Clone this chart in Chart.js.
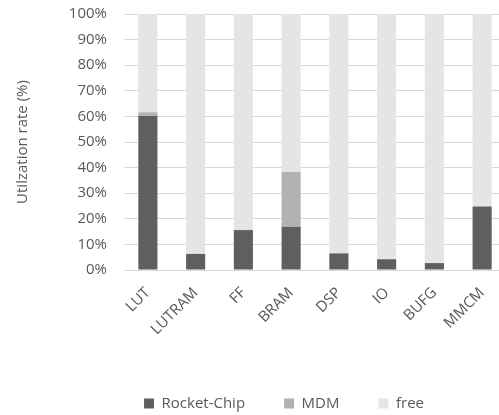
<!DOCTYPE html>
<html>
<head>
<meta charset="utf-8">
<script src="https://cdn.jsdelivr.net/npm/chart.js@4"></script>
<style>
  html, body { margin: 0; padding: 0; background: #fff; overflow: hidden; }
</style>
</head>
<body>
<canvas id="utilization" width="568" height="415"></canvas>
<script>
// FPGA resource usage per block type, in percent
const categories = ['LUT', 'LUTRAM', 'FF', 'BRAM', 'DSP', 'IO', 'BUFG', 'MMCM'];
const rocketChip = [60.3, 6.3, 15.6, 16.9, 6.5, 4.2, 2.7, 24.8];
const mdm = [1.3, 0, 0, 21.4, 0, 0, 0, 0];
const free = [38.4, 93.7, 84.4, 61.7, 93.5, 95.8, 97.3, 75.2];
const yTicks = [0, 10, 20, 30, 40, 50, 60, 70, 80, 90, 100];

const textColor = '#595959';
const font = { family: '"Open Sans", sans-serif', size: 15 };

new Chart(document.getElementById('utilization'), {
    type: 'bar',
    data: {
        labels: categories,
        datasets: [
            { label: 'Rocket-Chip', data: rocketChip, backgroundColor: '#5f5f5f' },
            { label: 'MDM', data: mdm, backgroundColor: '#b2b2b2' },
            { label: 'free', data: free, backgroundColor: '#e5e5e5' }
        ]
    },
    options: {
        responsive: false,
        devicePixelRatio: 1,
        animation: false,
        datasets: {
            bar: { categoryPercentage: 1, barPercentage: 0.4, borderWidth: 0 }
        },
        layout: { padding: { top: 14, left: 0, right: 0, bottom: -6 } },
        plugins: {
            tooltip: { enabled: false },
            legend: {
                position: 'bottom',
                labels: {
                    color: textColor,
                    font: font,
                    boxWidth: 10,
                    boxHeight: 10,
                    padding: 39
                }
            }
        },
        scales: {
            x: {
                stacked: true,
                grid: { display: false },
                border: { display: false },
                ticks: {
                    color: textColor,
                    font: font,
                    minRotation: 45,
                    maxRotation: 45,
                    padding: 6
                },
                afterFit: scale => { scale.height = 87; }
            },
            y: {
                stacked: true,
                min: 0,
                max: 100,
                afterBuildTicks: scale => {
                    scale.ticks = yTicks.map(v => ({ value: v }));
                },
                grid: { color: '#d9d9d9', lineWidth: 1, drawTicks: false },
                border: { display: false },
                ticks: {
                    color: textColor,
                    font: font,
                    padding: 17,
                    callback: v => v + '%'
                },
                title: {
                    display: true,
                    text: 'Utilzation rate (%)',
                    color: textColor,
                    font: font,
                    padding: { top: 14, bottom: 0 }
                },
                afterFit: scale => {
                    scale.width = 124;
                    // tick padding would otherwise push the plot down from the top
                    scale.paddingTop = 0;
                    scale.paddingBottom = 0;
                }
            },
            // keeps the plot narrower than the canvas so the legend sits centred on the full chart
            right: {
                position: 'right',
                display: true,
                grid: { display: false, drawTicks: false },
                border: { display: false },
                ticks: { display: false },
                afterFit: scale => { scale.width = 62; }
            }
        }
    }
});
</script>
</body>
</html>
